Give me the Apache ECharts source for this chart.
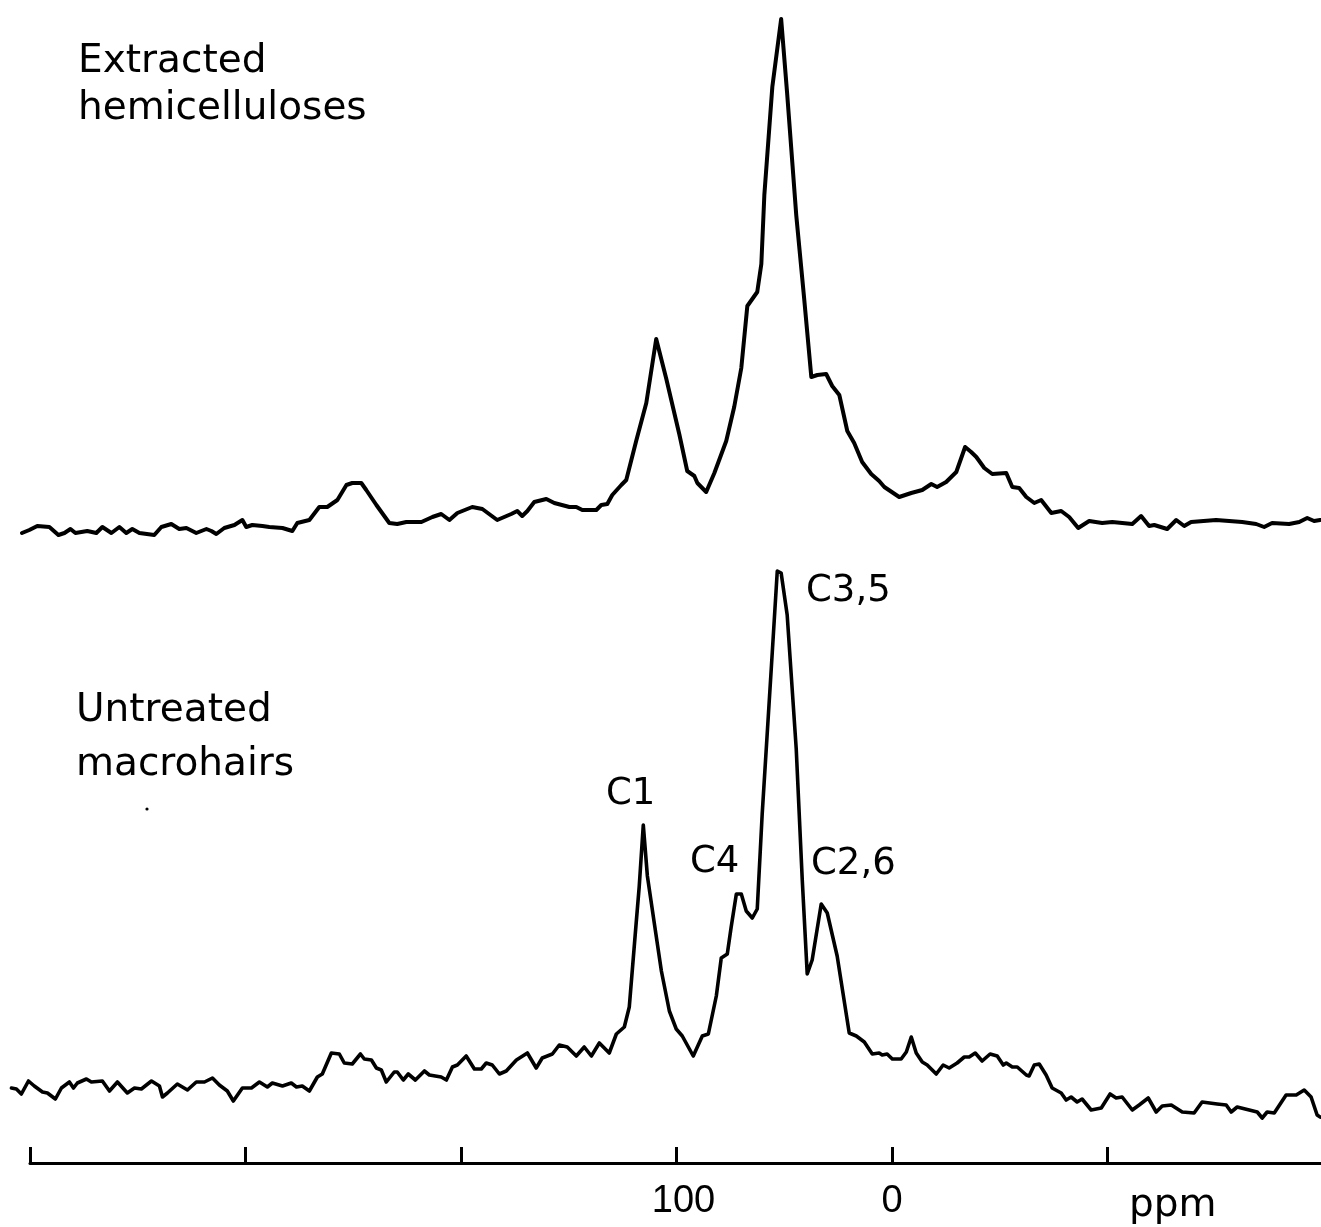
<!DOCTYPE html>
<html>
<head>
<meta charset="utf-8">
<script src="https://cdn.jsdelivr.net/npm/echarts@6/dist/echarts.min.js"></script>
<style>
html,body{margin:0;padding:0;background:#fff;}
#chart{width:1321px;height:1227px;}
</style>
</head>
<body>
<div id="chart"></div>
<script>
// Chemical shift axis ticks (ppm)
const tickValues = [400, 300, 200, 100, 0, -100];
const labelValues = [100, 0];

// Extracted hemicelluloses: chemical shift (ppm) and intensity (arbitrary units)
const ppmTop = [403.5,400.1,396.4,390.8,386.6,383.8,381.0,378.7,373.2,369.0,366.2,362.0,358.3,355.1,352.3,349.0,342.1,338.8,334.2,330.5,327.2,322.6,317.9,315.6,313.3,309.6,304.9,301.2,299.4,296.6,291.9,288.7,282.6,278.0,275.7,270.1,265.5,261.8,257.1,252.9,250.2,246.0,243.7,239.0,233.0,229.3,225.1,218.1,213.0,208.9,205.1,201.4,194.5,189.8,182.9,176.4,173.6,171.3,168.9,165.7,160.1,156.4,149.4,146.2,143.4,136.9,134.6,131.8,129.5,125.3,123.0,118.4,113.7,109.1,104.4,98.4,94.7,91.4,90.0,85.9,82.1,76.6,72.9,69.6,66.8,62.2,60.3,58.9,55.2,51.1,48.3,44.1,40.4,37.1,34.3,30.2,27.4,24.1,20.4,17.2,13.5,9.3,5.6,3.2,-3.7,-9.3,-14.4,-18.6,-21.3,-25.5,-30.2,-34.3,-37.1,-39.5,-43.2,-46.9,-53.4,-56.2,-59.4,-62.7,-66.4,-69.6,-74.3,-78.9,-82.6,-86.8,-91.9,-97.9,-102.6,-111.9,-116.0,-119.7,-122.1,-128.1,-132.3,-136.0,-139.2,-150.8,-162.9,-169.4,-173.1,-176.8,-184.7,-189.4,-193.1,-196.3,-199.1];
const intTop = [-3,0,4,3,-5,-3,1,-3,-1,-3,3,-3,3,-3,1,-3,-5,3,6,1,2,-3,1,-1,-4,2,5,10,3,5,4,3,2,-1,7,10,23,23,30,45,47,47,40,25,7,6,8,8,13,16,10,17,23,21,10,16,19,14,19,28,31,27,23,23,20,20,25,26,35,45,50,89,127,191,151,96,59,54,47,38,57,89,123,162,224,238,266,335,443,511,436,315,231,153,155,156,144,135,99,87,68,56,49,43,33,37,40,46,43,48,58,83,78,73,62,56,57,43,42,33,27,30,17,19,13,2,9,7,8,6,14,4,5,1,10,4,8,10,8,6,3,7,6,8,12,9,10];

// Untreated macrohairs: chemical shift (ppm) and intensity (arbitrary units)
const ppmBottom = [408.4,406.1,403.8,400.5,397.8,394.0,391.7,388.0,385.2,381.5,379.6,377.8,373.6,371.3,366.2,362.9,359.2,354.6,351.3,348.1,343.4,339.7,338.3,336.0,331.4,326.7,322.6,318.8,315.1,311.9,308.2,305.4,301.2,297.0,293.3,289.6,287.3,282.6,278.5,276.1,273.4,270.1,266.4,264.1,259.9,256.2,253.9,250.2,246.4,244.6,241.3,239.0,236.7,234.4,230.7,229.3,226.5,224.2,220.9,216.7,214.4,208.9,206.5,203.7,201.4,197.3,193.5,190.3,188.0,185.2,181.9,178.7,174.0,168.9,164.8,162.0,157.3,154.1,150.4,146.2,142.5,139.2,135.5,130.9,127.6,123.9,121.6,118.4,117.0,115.1,113.2,110.0,106.7,103.0,99.8,97.0,91.9,87.7,84.9,81.2,78.9,76.1,74.3,71.9,69.6,67.3,64.5,62.2,59.9,55.7,52.9,51.1,48.3,44.1,41.3,39.0,36.7,32.5,29.7,25.1,19.5,16.2,12.5,8.8,5.6,4.2,1.9,-0.5,-4.6,-7.0,-9.3,-11.6,-14.4,-16.7,-20.9,-24.1,-26.9,-30.6,-33.9,-36.2,-39.0,-42.2,-45.9,-49.2,-52.0,-53.4,-56.2,-58.5,-62.7,-64.0,-66.4,-68.7,-71.9,-74.7,-78.9,-81.2,-83.5,-86.3,-88.6,-92.8,-97.5,-101.6,-104.4,-107.2,-111.9,-115.1,-119.3,-123.0,-125.8,-130.0,-135.1,-140.6,-144.3,-151.3,-155.5,-157.8,-160.6,-166.2,-169.9,-172.2,-174.5,-177.8,-183.3,-188.0,-191.7,-194.9,-197.7,-199.1];
const intBottom = [2,1,-4,9,4,-2,-3,-9,2,8,2,7,11,8,9,-1,8,-3,2,1,9,4,-7,-3,6,0,8,8,12,5,-1,-11,2,2,8,3,7,4,7,3,4,-1,13,16,37,36,27,26,36,31,30,22,20,8,18,18,10,16,10,19,15,13,10,23,25,34,21,21,27,25,16,19,30,37,22,32,36,45,43,34,43,34,47,37,56,63,83,167,203,265,214,167,119,79,61,54,34,54,56,94,132,136,163,196,196,179,172,181,276,421,519,517,475,341,210,116,130,186,177,134,57,54,48,36,37,35,36,31,31,38,53,37,28,25,16,25,22,27,33,33,37,29,36,34,25,27,23,23,15,14,25,26,15,2,-3,-10,-7,-12,-9,-20,-18,-4,-8,-7,-20,-15,-8,-22,-16,-15,-22,-23,-12,-14,-15,-22,-17,-20,-22,-28,-22,-23,-5,-5,0,-7,-25,-27];

// Spectrum labels and peak assignments
const spectrumLabels = [
  ['Extracted', 'hemicelluloses'],
  ['Untreated', 'macrohairs']
];
const peakNames = ['C1', 'C4', 'C3,5', 'C2,6'];
const unitLabel = 'ppm';

// vertical stacking offsets of the two traces (y-axis units)
const TOP_OFFSET = 633;
const BOTTOM_OFFSET = 73;

function pairs(xs, ys, off) {
  return xs.map((x, i) => [x, ys[i] + off]);
}

const FONT = '"DejaVu Sans", sans-serif';
const chart = echarts.init(document.getElementById('chart'), null, {renderer: 'canvas'});

const option = {
  backgroundColor: '#fff',
  animation: false,
  grid: [
    {left: 8, right: 0, top: 0, height: 1163},
    {left: 30, right: 0, top: 1162, height: 1}
  ],
  xAxis: [
    {gridIndex: 0, type: 'value', inverse: true, min: -199.5, max: 410, show: false},
    {
      gridIndex: 1, type: 'value', inverse: true, min: -199.1, max: 400,
      axisLine: {show: true, onZero: false, lineStyle: {color: '#000', width: 3}},
      axisTick: {show: true, inside: true, length: 16, customValues: tickValues,
                 lineStyle: {color: '#000', width: 3}},
      splitLine: {show: false},
      axisLabel: {
        show: true, margin: 20, color: '#000', fontSize: 38,
        fontFamily: '"Liberation Sans", sans-serif',
        customValues: labelValues,
        formatter: v => v === 100 ? '{a|' + v + '}' : String(v),
        rich: {a: {fontSize: 38, fontFamily: '"Liberation Sans", sans-serif', color: '#000', padding: [0, 0, 0, 14]}}
      }
    }
  ],
  yAxis: [
    {gridIndex: 0, type: 'value', min: 0, max: 1163, show: false},
    {gridIndex: 1, type: 'value', min: 0, max: 1, show: false}
  ],
  series: [
    {type: 'line', xAxisIndex: 0, yAxisIndex: 0, data: pairs(ppmTop, intTop, TOP_OFFSET),
     showSymbol: false, symbol: 'none', silent: true,
     lineStyle: {color: '#000', width: 4, join: 'round', cap: 'round'}},
    {type: 'line', xAxisIndex: 0, yAxisIndex: 0, data: pairs(ppmBottom, intBottom, BOTTOM_OFFSET),
     showSymbol: false, symbol: 'none', silent: true,
     lineStyle: {color: '#000', width: 3.6, join: 'round', cap: 'round'}}
  ],
  graphic: [
    {type: 'text', left: 78, top: 42, style: {text: spectrumLabels[0][0], font: '39px ' + FONT, fill: '#000'}},
    {type: 'text', left: 78, top: 89, style: {text: spectrumLabels[0][1], font: '39px ' + FONT, fill: '#000'}},
    {type: 'text', left: 76, top: 691, style: {text: spectrumLabels[1][0], font: '39px ' + FONT, fill: '#000'}},
    {type: 'text', left: 76, top: 745, style: {text: spectrumLabels[1][1], font: '39px ' + FONT, fill: '#000'}},
    {type: 'circle', shape: {cx: 147, cy: 809, r: 1.6}, style: {fill: '#000'}},
    {type: 'text', left: 606, top: 776, style: {text: peakNames[0], font: '37px ' + FONT, fill: '#000'}},
    {type: 'text', left: 690, top: 844, style: {text: peakNames[1], font: '37px ' + FONT, fill: '#000'}},
    {type: 'text', left: 806, top: 573, style: {text: peakNames[2], font: '37px ' + FONT, fill: '#000'}},
    {type: 'text', left: 811, top: 846, style: {text: peakNames[3], font: '37px ' + FONT, fill: '#000'}},
    {type: 'text', left: 1129, top: 1186, style: {text: unitLabel, font: '39px ' + FONT, fill: '#000'}}
  ]
};
chart.setOption(option);
</script>
</body>
</html>
